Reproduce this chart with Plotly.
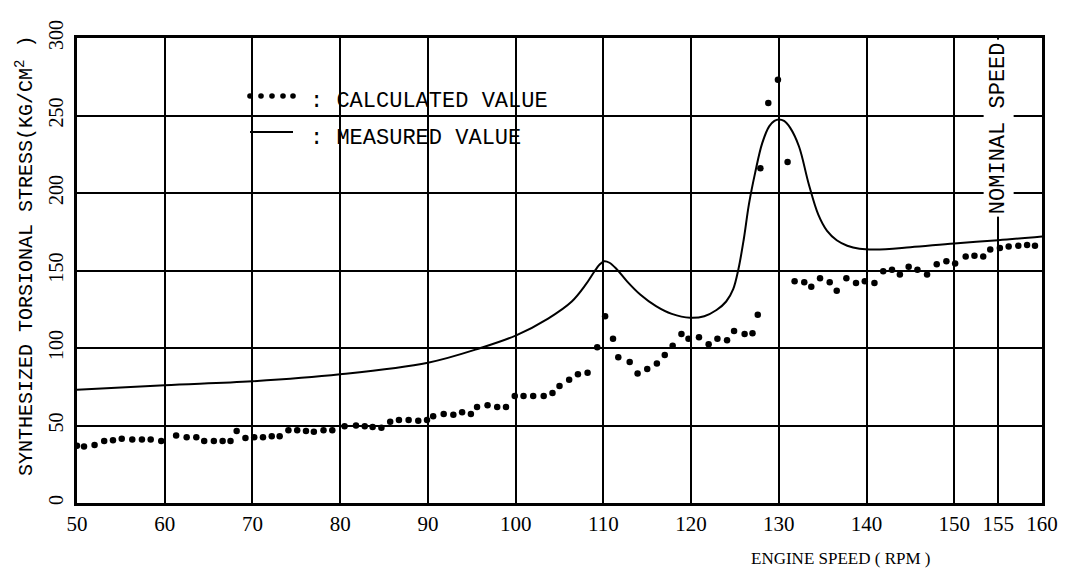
import plotly.graph_objects as go

# ---------------- data ----------------
calc_rpm = [50.0, 50.8, 52.0, 53.1, 54.1, 55.1, 56.3, 57.4, 58.4, 59.6,
            61.3, 62.5, 63.6, 64.5, 65.6, 66.6, 67.5, 68.2, 69.2, 70.2,
            71.2, 72.2, 73.1, 74.1, 75.1, 76.1, 77.0, 78.1, 79.1, 80.5,
            81.8, 82.8, 83.7, 84.7, 85.7, 86.7, 87.8, 88.9, 89.9, 90.6,
            91.8, 92.9, 93.9, 94.9, 95.6, 96.8, 97.9, 98.9, 99.9, 100.9,
            102.0, 103.2, 104.2, 105.0, 106.1, 107.1, 108.2, 109.3, 110.2, 111.1,
            111.7, 113.0, 113.9, 115.0, 116.1, 117.0, 117.9, 118.9, 119.7, 120.9,
            122.0, 123.0, 124.1, 124.9, 126.1, 127.0, 127.6, 127.9, 128.8, 129.9,
            131.0, 131.8, 132.9, 133.7, 134.7, 135.8, 136.6, 137.7, 138.8, 139.8,
            140.9, 141.9, 142.9, 143.8, 144.8, 145.8, 146.9, 148.0, 149.1, 150.1,
            151.3, 152.3, 153.3, 154.1, 155.2, 156.2, 157.3, 158.3, 159.2]
calc_val = [37, 36.5, 37.5, 40, 40.5, 41.5, 41, 41, 41, 40,
            43.5, 42.5, 42.5, 40, 40, 40, 40, 46.5, 42, 42.5,
            42.5, 43, 43, 47, 47, 46.5, 46, 47, 47, 49.5,
            50, 49.5, 49, 48.5, 52.5, 53.5, 53.5, 53, 53.5, 56,
            57.5, 57, 58.5, 57.5, 62, 63, 62, 62, 69, 69,
            69, 69, 71, 75.5, 79.5, 83, 84, 100.5, 120.5, 106,
            94, 91, 83.5, 86.5, 90, 95.5, 101.5, 109, 106, 107,
            102.5, 106, 105, 111, 109, 109.5, 121.5, 216, 258, 273,
            220, 143, 142.5, 139.5, 145, 142.5, 137, 145, 142, 143,
            142, 149.5, 150.5, 147.5, 152.5, 150.5, 147.5, 154, 156, 154.5,
            159, 159.5, 159, 163.5, 164.5, 165.5, 166, 166.5, 166]

meas_rpm = [50, 60, 70, 80, 90, 96, 100, 103.7, 106.4, 108.0,
            109.0, 109.6, 110.1, 110.7, 111.5, 112.7, 114.2, 116, 117.8, 119.9,
            121.5, 122.9, 124.0, 124.8, 125.4, 126.0, 126.6, 127.3, 128.1, 128.9,
            129.5, 130.0, 130.6, 131.3, 132.3, 133.4, 134.5, 135.5, 136.6, 137.8,
            139.2, 141, 145, 150, 155, 160]
meas_val = [73, 76, 78.5, 83, 90.5, 100, 108, 119, 130, 141,
            149.5, 154, 156, 155, 151, 143, 134.5, 127, 122, 119.5,
            120.5, 124.5, 130, 138, 151, 170, 193, 213, 232, 243,
            246.5, 247.5, 246.5, 242, 230, 206, 186, 175.5, 169.5, 166,
            164, 163.5, 165, 167.5, 169.5, 172]

x_ticks = [50, 60, 70, 80, 90, 100, 110, 120, 130, 140, 150, 155, 160]
y_ticks = [0, 50, 100, 150, 200, 250, 300]

MONO = "Liberation Mono"
SERIF = "Liberation Serif"

fig = go.Figure()
fig.add_trace(go.Scatter(x=meas_rpm, y=meas_val, mode="lines",
                         line=dict(color="black", width=2, shape="spline", smoothing=1.0),
                         name="MEASURED VALUE", hoverinfo="skip"))
fig.add_trace(go.Scatter(x=calc_rpm, y=calc_val, mode="markers",
                         marker=dict(color="black", size=6.5),
                         name="CALCULATED VALUE"))

# page body adds an 8px offset; target plot box 77..1042 x 38..503 on screen
OFF = 8
W, H = 1080, 573
L, R, T, B = 77 - OFF, 38 + OFF, 38 - OFF, 70 + OFF
pw, ph = W - L - R, H - T - B


def px(xs):
    """screen x -> paper"""
    return (xs - OFF - L) / pw


def py(ys):
    """screen y -> paper"""
    return (H - B - (ys - OFF)) / ph


annotations = [
    dict(x=px(308), y=py(101), xref="paper", yref="paper", text=": CALCULATED VALUE",
         showarrow=False, xanchor="left", yanchor="middle",
         font=dict(family=MONO, size=22, color="black")),
    dict(x=px(308), y=py(138), xref="paper", yref="paper", text=": MEASURED VALUE",
         showarrow=False, xanchor="left", yanchor="middle",
         font=dict(family=MONO, size=22, color="black")),
    dict(x=155, y=py(128), xref="x", yref="paper", text="NOMINAL SPEED",
         textangle=-90, showarrow=False, xanchor="center", yanchor="middle",
         bgcolor="white", borderpad=2,
         font=dict(family=MONO, size=22, color="black")),
    dict(x=px(25), y=py(256), xref="paper", yref="paper",
         text="SYNTHESIZED TORSIONAL STRESS(KG/CM<sup>2</sup> )",
         textangle=-90, showarrow=False, xanchor="center", yanchor="middle",
         font=dict(family=MONO, size=20, color="black")),
    dict(x=px(840), y=py(558), xref="paper", yref="paper",
         text="ENGINE SPEED ( RPM )", showarrow=False,
         xanchor="center", yanchor="middle",
         font=dict(family=SERIF, size=17, color="black")),
]

shapes = [
    dict(type="line", xref="paper", yref="paper",
         x0=px(250), x1=px(293), y0=py(132), y1=py(132),
         line=dict(color="black", width=2)),
]
for xs in [250, 261, 272, 283, 293]:
    r = 2.8
    shapes.append(dict(type="circle", xref="paper", yref="paper",
                       x0=px(xs - r), x1=px(xs + r), y0=py(96 + r), y1=py(96 - r),
                       fillcolor="black", line=dict(width=0)))

fig.update_layout(
    width=W, height=H,
    margin=dict(l=L, r=R, t=T, b=B, autoexpand=False),
    paper_bgcolor="white", plot_bgcolor="white",
    showlegend=False,
    annotations=annotations,
    shapes=shapes,
    xaxis=dict(range=[50, 160], tickvals=x_ticks, ticktext=[str(v) for v in x_ticks],
               tickangle=0, showgrid=True, gridcolor="black", gridwidth=2,
               showline=True, linecolor="black", linewidth=2.5, mirror=True,
               ticks="", zeroline=False, ticklabelstandoff=0,
               tickfont=dict(family=SERIF, size=21, color="black")),
    yaxis=dict(range=[0, 300], tickvals=y_ticks, ticktext=[str(v) for v in y_ticks],
               tickangle=-90, showgrid=True, gridcolor="black", gridwidth=2,
               showline=True, linecolor="black", linewidth=2.5, mirror=True,
               ticks="", zeroline=False, ticklabelstandoff=3,
               tickfont=dict(family=SERIF, size=20, color="black")),
)

fig.write_html("out.html")
